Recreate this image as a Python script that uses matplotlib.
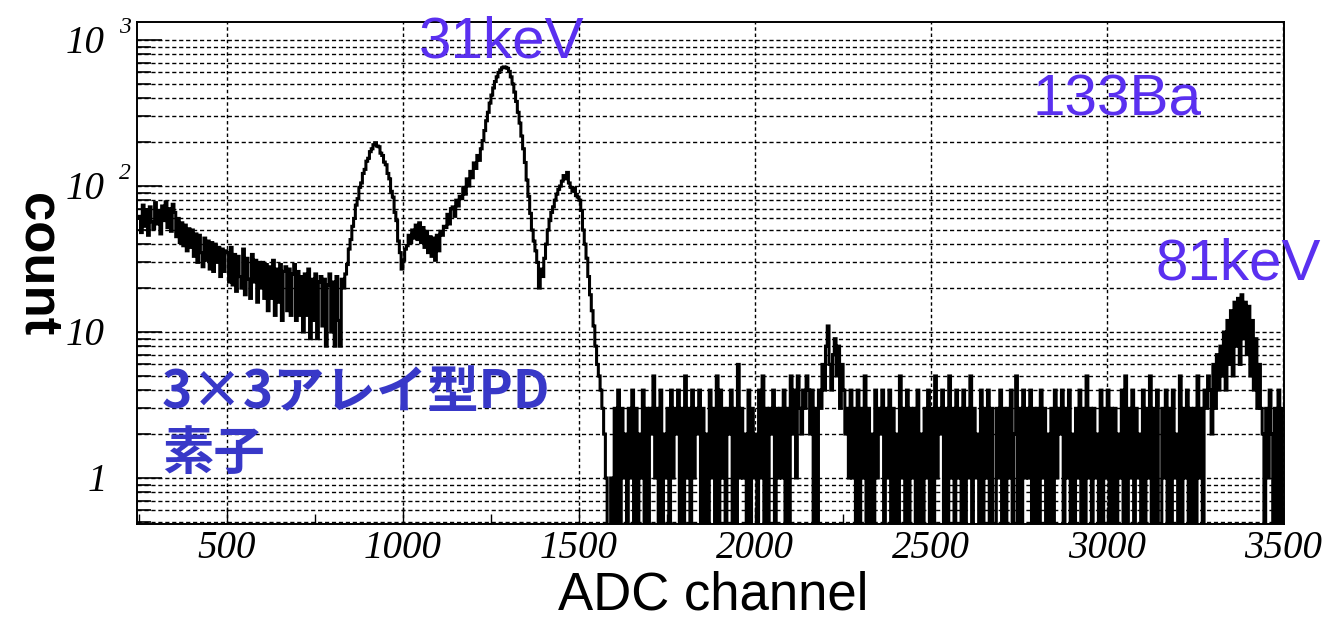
import numpy as np
import matplotlib
matplotlib.use("Agg")
import matplotlib.pyplot as plt
from matplotlib import transforms
from matplotlib.ticker import FixedLocator

# ---------------- data (5-channel bins, first bin starts at 245) ----------------
BIN = 5
X0 = 245
# 245 .. 825
cnt_low = [60,
           62, 48, 74, 53, 69, 46, 72, 57, 51, 77, 55, 68, 47, 73, 58, 78, 52, 70, 49, 75,
           66, 45, 60, 41, 56, 39, 54, 36, 51, 38,
           50, 33, 47, 30, 46, 35, 28, 44, 31, 42, 27, 41, 26, 40, 30, 38, 24, 37, 26, 36,
           35, 22, 38, 21, 34, 19, 33, 24, 20, 37, 18, 32, 23, 17, 34, 22, 31, 16, 30, 20,
           30, 17, 29, 14, 28, 17, 31, 13, 27, 16, 29, 12, 26, 28, 14, 27, 13, 25, 29, 12,
           26, 13, 24, 10, 25, 13, 27, 9, 23, 12, 25, 9, 22, 24, 11, 23, 8, 21, 25, 10,
           22, 8, 24, 12, 8, 23]
# 830 .. 995  (first peak)
cnt_peak1 = [20, 25, 29, 37, 43, 53, 60, 74, 82, 98, 105, 122, 130, 148, 155, 172, 180, 192, 198, 188,
             186, 168, 162, 146, 140, 122, 112, 92, 84, 66, 58, 42, 35, 27]
# 1000 .. 1135
cnt_valley = [31, 37, 39, 46, 41, 50, 44, 54, 43, 56, 41, 52, 38, 49, 35, 45, 33, 44, 31, 46,
              36, 49, 46, 53, 52, 64, 55, 70]
# 1140 .. 1390  (31 keV peak)
cnt_31kev = [72, 62, 80, 73, 85, 82, 98, 88, 112, 100, 126, 114, 144, 132, 162, 150,
             180, 205, 240, 280, 320, 370, 420, 470, 520, 560, 600, 625, 645, 655, 650, 640,
             610, 560, 500, 440, 380, 320, 270, 220, 180, 145, 110, 85, 65, 50, 42, 36, 30, 20, 27]
# 1395 .. 1570
cnt_peak3 = [24, 32, 40, 50, 58, 66, 72, 80, 88, 95, 100, 108, 118, 112, 124, 105, 98, 92,
             97, 86, 84, 80, 68, 50, 40, 32, 24, 18, 14, 11, 8, 6, 5, 4, 3, 2]
# 1575 .. 3285  (low-count region)
cnt_flat = """
1 0 0 1 0 3 0 4 0 3 1 2 0 3 1 4 0 3 0 2
1 4 0 3 0 3 2 5 1 3 0 4 0 2 1 3 0 4 1 3
2 4 0 3 0 5 1 3 0 4 1 3 2 4 0 3 0 2 0 4
1 3 0 5 0 4 1 3 0 3 2 4 0 3 0 6 1 3 1 2
0 4 0 3 1 2 0 4 1 5 0 3 0 3 2 4 0 3 1 3
1 4 0 3 0 5 2 4 1 5 3 2 4 3 5 4 2 4 0 3
0 4 3 6 4 8 11 6 4 7 9 5 8 3 6 4 2 3 1 4
1 3 0 4 0 3 1 5 0 3 0 2 0 4 1 3 2 4 0 3
1 4 0 3 0 2 0 5 1 3 0 4 0 3 1 3 0 4 0 2
0 3 1 4 0 3 0 5 1 3 2 4 0 3 0 5 1 3 0 4
1 3 0 4 0 3 1 5 0 3 1 2 0 4 0 3 1 4 0 3
0 0 3 1 4 0 3 0 3 1 4 0 2 5 0 3 0 4 1 3
1 4 0 3 0 3 0 4 1 3 0 2 0 3 0 4 1 3 2 4
0 3 1 4 0 2 0 3 1 4 0 3 0 5 1 3 0 3 1 2
0 4 0 3 1 4 0 3 0 3 0 2 1 4 0 5 0 3 1 4
0 3 1 2 0 4 0 3 1 5 0 3 0 4 0 0 3 1 4 0
3 0 4 1 2 0 5 0 3 1 4 0 3 0 3 0 5 1 3 0
4 3 5
"""
# 3290 .. 3435  (81 keV peak)
cnt_81kev = [4, 2, 6, 3, 7, 4, 8, 5, 10, 4, 12, 6, 14, 5, 16, 8, 17, 6, 18, 9,
             16, 7, 15, 5, 12, 4, 9, 3, 6, 3]
# 3440 .. 3495
cnt_tail = "2 0 3 1 4 2 0 3 0 4 0 3"

xtick_vals = [500, 1000, 1500, 2000, 2500, 3000, 3500]
xtick_labels = ["500", "1000", "1500", "2000", "2500", "3000", "3500"]
ytick_vals = [1, 10, 100, 1000]

counts = np.array(cnt_low + cnt_peak1 + cnt_valley + cnt_31kev + cnt_peak3
                  + [int(v) for v in cnt_flat.split()] + cnt_81kev
                  + [int(v) for v in cnt_tail.split()], dtype=float)
edges = X0 + BIN * np.arange(len(counts) + 1)

# ---------------- fonts ----------------
SANS = "Liberation Sans"
SERIF = "Liberation Serif"
CJK = ["Noto Sans CJK JP", "DejaVu Sans"]

W, H = 1325, 620
fig = plt.figure(figsize=(W / 100, H / 100), dpi=100)
ax = fig.add_axes([137 / W, (H - 524) / H, 1147 / W, 502 / H])

ax.set_yscale("log", nonpositive="clip")
ax.step(edges, np.append(counts, counts[-1]), where="post", color="black", lw=2.2,
        solid_joinstyle="miter")
ax.set_xlim(245, 3502)
ax.set_ylim(0.484, 1330)

# ticks
ax.xaxis.set_major_locator(FixedLocator(xtick_vals))
ax.xaxis.set_minor_locator(FixedLocator([250 + 500 * i for i in range(7)]))
ax.set_xticklabels(xtick_labels, fontfamily=SERIF, fontstyle="italic", fontsize=28)
ax.yaxis.set_major_locator(FixedLocator(ytick_vals))
ax.yaxis.set_minor_locator(FixedLocator([m * 10.0 ** k for k in range(-1, 3) for m in range(2, 10)]))
ax.tick_params(axis="x", which="major", direction="in", length=12, width=1, pad=4, top=False)
ax.tick_params(axis="x", which="minor", direction="in", length=7, width=1, top=False)
ax.tick_params(axis="y", which="major", direction="in", length=18, width=1.2, right=False, labelleft=False)
ax.tick_params(axis="y", which="minor", direction="in", length=10, width=1.2, right=False, labelleft=False)

ax.grid(True, axis="y", which="both", color="black", lw=1.0, ls=(0, (3, 2)))
ax.grid(True, axis="x", which="major", color="black", lw=1.0, ls=(0, (2.5, 2)))
ax.grid(False, axis="x", which="minor")
for s in ax.spines.values():
    s.set_linewidth(1.4)

# y tick labels drawn as text (ROOT style 10^n)
tr = transforms.blended_transform_factory(ax.transAxes, ax.transData)
tr_lab = transforms.offset_copy(tr, fig=fig, x=0, y=-13, units="dots")
tr_sup = transforms.offset_copy(tr, fig=fig, x=0, y=7, units="dots")
for v in ytick_vals:
    if v == 1:
        ax.text((88 - 137) / 1147, v, "1", transform=tr_lab, ha="left", va="baseline",
                fontfamily=SERIF, fontstyle="italic", fontsize=28, clip_on=False)
    else:
        ax.text((66 - 137) / 1147, v, "10", transform=tr_lab, ha="left", va="baseline",
                fontfamily=SERIF, fontstyle="italic", fontsize=28, clip_on=False)
        if v > 10:
            ax.text((119 - 137) / 1147, v, str(int(round(np.log10(v)))), transform=tr_sup,
                    ha="left", va="baseline", fontfamily=SERIF, fontstyle="italic",
                    fontsize=17, clip_on=False)

# axis titles
fig.text(713 / W, 1 - 610 / H, "ADC channel", ha="center", va="baseline",
         fontfamily=SANS, fontsize=38)
fig.text(37 / W, 1 - 265 / H, "count", ha="center", va="center", rotation=270,
         fontfamily=SANS, fontweight="bold", fontsize=38)

# annotations
LAB = "#5a30f0"
fig.text(502 / W, 1 - 58 / H, "31keV", ha="center", va="baseline", color=LAB,
         fontfamily=SANS, fontsize=42)
fig.text(1117 / W, 1 - 115 / H, "133Ba", ha="center", va="baseline", color=LAB,
         fontfamily=SANS, fontsize=42)
fig.text(1238 / W, 1 - 280 / H, "81keV", ha="center", va="baseline", color=LAB,
         fontfamily=SANS, fontsize=42)
JP = "#3838c8"
fig.text(162 / W, 1 - 408 / H, "3×3アレイ型PD", ha="left", va="baseline", color=JP,
         family=CJK, fontweight="bold", fontsize=37)
fig.text(162 / W, 1 - 469 / H, "素子", ha="left", va="baseline", color=JP,
         family=CJK, fontweight="bold", fontsize=37)

fig.savefig("out.png", dpi=100)
